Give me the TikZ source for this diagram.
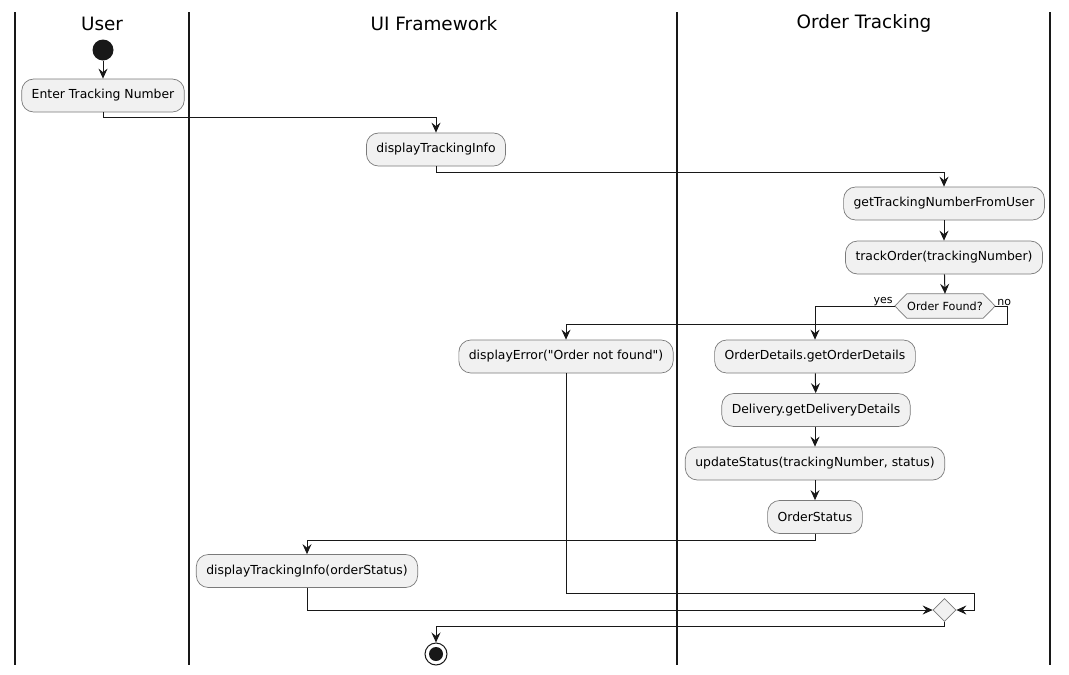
\documentclass[tikz,border=0pt]{standalone}
\usepackage{fontspec}
\setmainfont{DejaVu Sans}[Ligatures=TeXOff]
\usetikzlibrary{arrows.meta,shapes.geometric,calc}
\definecolor{boxfill}{HTML}{F1F1F1}
\definecolor{ink}{HTML}{181818}
\definecolor{boxline}{HTML}{7A7A7A}
\begin{document}
\begin{tikzpicture}[x=1pt,y=-1pt,
  act/.style={draw=boxline, fill=boxfill, rounded corners=12pt, minimum height=33pt, inner xsep=10pt, font=\fontsize{12.4}{14}\selectfont, line width=0.7pt},
  flow/.style={draw=ink, line width=1pt, -{Stealth[length=10pt,width=9pt,inset=3.5pt]}},
  lane/.style={draw=ink, line width=1.4pt},
  title/.style={font=\fontsize{18.4}{20}\selectfont, text=black},
  lbl/.style={font=\fontsize{11}{12}\selectfont, inner sep=1pt}
]
\useasboundingbox (0,0) rectangle (1069,675);
\fill[white] (0,0) rectangle (1069,675);
% lanes
\coordinate (l0t) at (15,12); \coordinate (l0b) at (15,665);
\coordinate (l1t) at (189,12); \coordinate (l1b) at (189,665);
\coordinate (l2t) at (677,12); \coordinate (l2b) at (677,665);
\coordinate (l3t) at (1050,12); \coordinate (l3b) at (1050,665);
\draw[lane] (l0t) -- (l0b);
\draw[lane] (l1t) -- (l1b);
\draw[lane] (l2t) -- (l2b);
\draw[lane] (l3t) -- (l3b);
\node[title] (tUser) at (102,23.5) {User};
\node[title] (tUI) at (434,23.5) {UI Framework};
\node[title] (tOT) at (864,23.5) {Order Tracking};
% nodes
\node[circle, fill=ink, minimum size=21pt, inner sep=0pt] (start) at (103,50) {};
\node[act] (enter) at (103,95.5) {Enter Tracking Number};
\node[act] (dti) at (436,149.5) {displayTrackingInfo};
\node[act] (gtn) at (944,203.5) {getTrackingNumberFromUser};
\node[act] (track) at (944,257.5) {trackOrder(trackingNumber)};
\node[minimum width=100pt, minimum height=24pt, inner sep=0pt] (dec) at (945,306) {};
\draw[draw=boxline, fill=boxfill, line width=0.7pt] (dec.west) -- ($(dec.north west)+(12,0)$) -- ($(dec.north east)+(-12,0)$) -- (dec.east) -- ($(dec.south east)+(-12,0)$) -- ($(dec.south west)+(12,0)$) -- cycle;
\node[inner sep=0pt, font=\fontsize{11.2}{12}\selectfont] (dectext) at (dec) {Order Found?};
\node[act] (err) at (566,356.5) {displayError("Order not found")};
\node[act] (od) at (815,356.5) {OrderDetails.getOrderDetails};
\node[act] (del) at (816,410) {Delivery.getDeliveryDetails};
\node[act] (upd) at (815,463.5) {updateStatus(trackingNumber, status)};
\node[act] (os) at (815,517) {OrderStatus};
\node[act] (dtio) at (307,571) {displayTrackingInfo(orderStatus)};
\node[diamond, aspect=1, draw=boxline, fill=boxfill, minimum width=23pt, minimum height=23pt, inner sep=0pt, line width=0.7pt] (merge) at (944.5,610) {};
\node[circle, draw=ink, fill=white, minimum size=22pt, inner sep=0pt, line width=1pt] (end) at (436,654) {};
\node[circle, fill=ink, minimum size=14pt, inner sep=0pt] (endin) at (end) {};
% labels
\node[lbl, anchor=south east] (yes) at ($(dec.west)+(-1,1)$) {yes};
\node[lbl, anchor=south west] (no) at ($(dec.east)+(1,1)$) {no};
% connectors
\draw[flow] (start) -- (enter);
\draw[flow] (enter.south) -- ++(0,5) -| (dti.north);
\draw[flow] (dti.south) -- ++(0,6) -| (gtn.north);
\draw[flow] (gtn) -- (track);
\draw[flow] (track) -- (dec.north);
\draw[flow] (dec.west) -| (od.north);
\draw[flow] (dec.east) -- ++(12,0) -- ++(0,18) -| (err.north);
\draw[flow] (od) -- (del);
\draw[flow] (del.south -| od.south) -- (upd.north);
\draw[flow] (upd) -- (os);
\draw[flow] (os.south) -- ++(0,7) -| (dtio.north);
\draw[flow] (err.south) -- ++(0,220) -| ($(merge.east)+(18,0)$) -- (merge.east);
\draw[flow] (dtio.south) |- (merge.west);
\draw[flow] (merge.south) -- ++(0,5) -| (end.north);
\end{tikzpicture}
\end{document}
